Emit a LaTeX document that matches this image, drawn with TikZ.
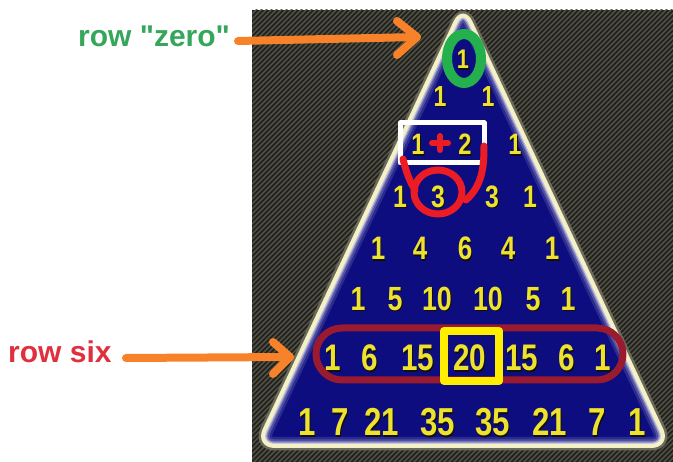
\documentclass[tikz,border=0pt]{standalone}
\usepackage{fontspec}
\setmainfont{Liberation Sans}
\newfontfamily\lblfont{Liberation Sans}
\definecolor{bgdark}{HTML}{23231E}
\definecolor{bgline}{HTML}{57574C}
\definecolor{navy}{HTML}{0D0D80}
\definecolor{rim}{HTML}{F4F1C9}
\definecolor{numyellow}{HTML}{EEE22E}
\definecolor{numshadow}{HTML}{101008}
\definecolor{penorange}{HTML}{F7822A}
\definecolor{pengreen}{HTML}{25B04E}
\definecolor{penred}{HTML}{EB1C24}
\definecolor{penmaroon}{HTML}{9A1A30}
\definecolor{penyellow}{HTML}{FFEE00}
\definecolor{txtgreen}{HTML}{35A65A}
\definecolor{txtred}{HTML}{E0303E}
% narrow bold yellow figure with a dark drop shadow
\newcommand\numtext[2]{\fontsize{#1}{#1}\selectfont\bfseries\scalebox{0.8}[1]{\makebox[0pt][l]{\hspace{1.2pt}\raisebox{-1.2pt}{\color{numshadow}#2}}#2}}
\tikzset{
  num/.style={text=numyellow, inner sep=0pt, anchor=base},
  lbl/.style={inner sep=0pt, anchor=base west, font=\lblfont\fontsize{30}{30}\selectfont\bfseries},
  pen/.style={line width=#1, line cap=round, line join=round},
  arrowpen/.style={penorange, pen=8pt},
}
\begin{document}
\begin{tikzpicture}[x=1pt,y=-1pt]
\useasboundingbox (0,0) rectangle (673,462);
% textured backdrop
\fill[bgdark] (252,10) rectangle (673,462);
\begin{scope}
  \clip (252,10) rectangle (673,462);
  \foreach \k in {0,...,176}
    \draw[bgline, line width=1.2pt] ({-200+\k*5},466) -- ({260+\k*5},6);
\end{scope}
% the triangle with its glowing rim
\draw[rounded corners=18pt, line width=9pt, draw=rim!35!bgdark]
  (463,446) -- (257,446) -- (463,6) -- (669,446) -- cycle;
\fill[navy, rounded corners=18pt]
  (463,446) -- (257,446) -- (463,6) -- (669,446) -- cycle;
\begin{scope}
  \clip[rounded corners=18pt] (463,446) -- (257,446) -- (463,6) -- (669,446) -- cycle;
  \draw[rounded corners=18pt, line width=18pt, draw=navy!88!white]
    (463,446) -- (257,446) -- (463,6) -- (669,446) -- cycle;
  \draw[rounded corners=18pt, line width=13pt, draw=navy!72!white]
    (463,446) -- (257,446) -- (463,6) -- (669,446) -- cycle;
  \draw[rounded corners=18pt, line width=9pt, draw=navy!50!white]
    (463,446) -- (257,446) -- (463,6) -- (669,446) -- cycle;
  \draw[rounded corners=18pt, line width=6.5pt, draw=navy!25!white]
    (463,446) -- (257,446) -- (463,6) -- (669,446) -- cycle;
\end{scope}
\draw[rounded corners=18pt, line width=4pt, draw=rim]
  (463,446) -- (257,446) -- (463,6) -- (669,446) -- cycle;
% Pascal's triangle, rows 0 to 7
\node[num] (r0c1) at (463,69) {\numtext{27}{1}};
\foreach \x/\t [count=\i] in {440/1,488/1}
  \node[num] (r1c\i) at (\x,106.5) {\numtext{29}{\t}};
\foreach \x/\t [count=\i] in {418/1,465/2,515/1}
  \node[num] (r2c\i) at (\x,155) {\numtext{29.5}{\t}};
\foreach \x/\t [count=\i] in {400/1,438/3,492/3,530/1}
  \node[num] (r3c\i) at (\x,207.5) {\numtext{31}{\t}};
\foreach \x/\t [count=\i] in {378/1,420/4,465/6,508/4,552/1}
  \node[num] (r4c\i) at (\x,260) {\numtext{32.5}{\t}};
\foreach \x/\t [count=\i] in {358/1,395/5,437/10,488/10,533/5,568/1}
  \node[num] (r5c\i) at (\x,310.5) {\numtext{33.5}{\t}};
\foreach \x/\t [count=\i] in {333/1,370/6,418/15,470/20,522/15,567/6,603/1}
  \node[num] (r6c\i) at (\x,371) {\numtext{37}{\t}};
\foreach \x/\t [count=\i] in {307/1,340/7,382/21,438/35,493/35,550/21,597/7,637/1}
  \node[num] (r7c\i) at (\x,436) {\numtext{39}{\t}};
% hand-drawn marks
\draw[pengreen, pen=10pt] (464,58.5) ellipse [x radius=17, y radius=24.5];
\draw[white, pen=5pt] (400,123) rectangle (484,163);
\draw[penred, pen=6pt] (432,143) -- (448,143) (440,136) -- (440,150);
\draw[penred, pen=7pt] (438,192) ellipse [x radius=24, y radius=22];
\draw[penred, pen=7pt] (403,159) .. controls (406,172) and (410,182) .. (415,190);
\draw[penred, pen=7pt] (484,146) .. controls (484,165) and (483,185) .. (466,200);
\draw[penmaroon, pen=7pt, rounded corners=26pt] (316,328) rectangle (623,380);
\draw[penyellow, pen=8pt] (444,331) rectangle (499,381);
% labels and pointers
\node[lbl, text=txtgreen] (zerolbl) at (78,47) {row "zero"};
\coordinate (zerotip) at (417,37);
\draw[arrowpen] (238,41) -- (zerotip);
\draw[arrowpen] (zerotip) ++(-20,-16) -- (zerotip) -- ++(-20,18);
\node[lbl, text=txtred] (sixlbl) at (8,363) {row six};
\coordinate (sixtip) at (290,357);
\draw[arrowpen] (126,358) -- (sixtip);
\draw[arrowpen] (sixtip) ++(-17,-15) -- (sixtip) -- ++(-17,17);
\end{tikzpicture}
\end{document}
